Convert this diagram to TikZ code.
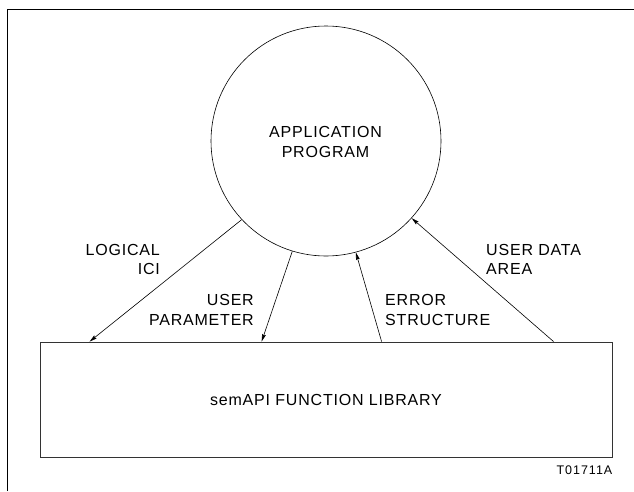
\documentclass[tikz,border=0pt]{standalone}
\usepackage{fontspec}
\setmainfont{Liberation Sans}[LetterSpace=5]
\newfontfamily\tagfont{Liberation Sans}[LetterSpace=8]
\usetikzlibrary{arrows.meta,calc}
\begin{document}
\begin{tikzpicture}[x=1pt,y=-1pt,
  lbl/.style={inner sep=0pt,font=\fontsize{16}{20}\selectfont},
  conn/.style={line width=0.6pt,-{Stealth[length=7.5pt,width=3.8pt,inset=1pt]}},
  frameline/.style={line width=1pt,black}]
\useasboundingbox (0,0) rectangle (634,491);
% frame
\coordinate (fc) at (7.5,9.5);
\coordinate (ftr) at (634,9.5);
\coordinate (fbl) at (7.5,491);
\draw[frameline] (fbl) -- (fc) -- (ftr);
% nodes
\node[circle,draw,line width=0.6pt,minimum size=230pt,inner sep=0pt] (app) at (326,141) {};
\node[lbl,anchor=base] (apptext) at (325.5,137.7)
  {\begin{tabular}[t]{@{}c@{}}APPLICATION\\PROGRAM\end{tabular}};
\node[draw=black!80,line width=0.8pt,minimum width=572pt,minimum height=115pt,inner sep=0pt,
  font=\fontsize{16}{20}\selectfont] (lib) at (326,399.5) {semAPI FUNCTION LIBRARY};
% connector end points on the box
\coordinate (b1) at ($(lib.north west)+(50,0)$);
\coordinate (b2) at ($(lib.north west)+(222,0)$);
\coordinate (b3) at ($(lib.north west)+(342,0)$);
\coordinate (b4) at ($(lib.north west)+(514,0)$);
% connectors
\draw[conn] (app.-137.1) -- (b1);
\draw[conn] (app.-107.8) -- (b2);
\draw[conn] (b3) -- (app.-75.8);
\draw[conn] (b4) -- (app.-42.9);
% labels
\node[lbl,anchor=base east,font=\fontsize{16}{18.5}\selectfont] (l1) at (160,255.7)
  {\begin{tabular}[t]{@{}r@{}}LOGICAL\\ICI\end{tabular}};
\node[lbl,anchor=base east] (l2) at (254,305)
  {\begin{tabular}[t]{@{}r@{}}USER\\PARAMETER\end{tabular}};
\node[lbl,anchor=base west] (l3) at (385,305)
  {\begin{tabular}[t]{@{}l@{}}ERROR\\STRUCTURE\end{tabular}};
\node[lbl,anchor=base west,font=\fontsize{16}{19}\selectfont] (l4) at (486,255)
  {\begin{tabular}[t]{@{}l@{}}USER DATA\\AREA\end{tabular}};
\node[inner sep=0pt,anchor=base east,font=\tagfont\fontsize{12.5}{15}\selectfont] (tag) at (612.5,474.3) {T01711A};
\end{tikzpicture}
\end{document}
